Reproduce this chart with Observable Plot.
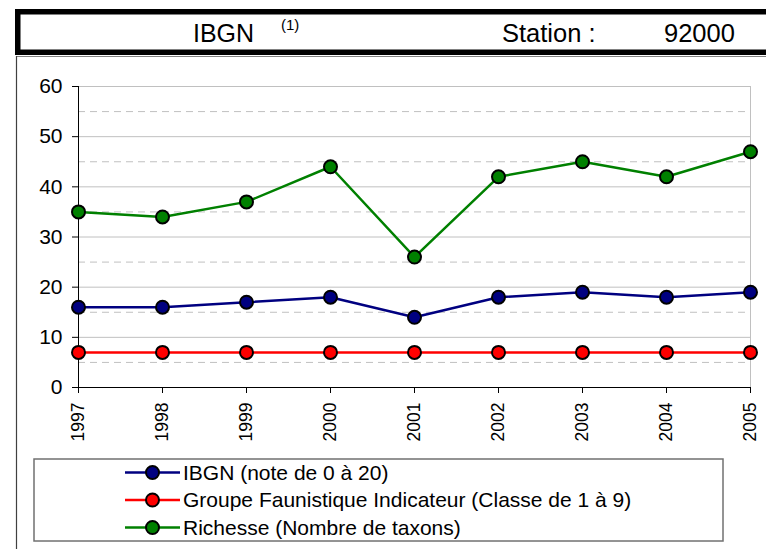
<!DOCTYPE html>
<html><head><meta charset="utf-8">
<script src="https://cdn.jsdelivr.net/npm/d3@7"></script>
<script src="https://cdn.jsdelivr.net/npm/@observablehq/plot@0.6"></script>
<style>
body{margin:0;background:#fff;}
#wrap{position:relative;width:766px;height:549px;overflow:hidden;background:#fff;font-family:"Liberation Sans",Arial,sans-serif;}
#chart{position:absolute;left:0;top:0;}
#deco{position:absolute;left:0;top:0;pointer-events:none;}
</style></head><body>
<div id="wrap"><div id="chart"></div><svg id="deco" width="766" height="549"></svg></div>
<script>
const years = ["1997","1998","1999","2000","2001","2002","2003","2004","2005"];
const ibgn = [16,16,17,18,14,18,19,18,19];
const gfi = [7,7,7,7,7,7,7,7,7];
const richesse = [35,34,37,44,26,42,45,42,47];
const seriesNames = ["IBGN (note de 0 à 20)","Groupe Faunistique Indicateur (Classe de 1 à 9)","Richesse (Nombre de taxons)"];
const seriesColors = ["#000080","#ff0000","#008000"];
const seriesValues = [ibgn, gfi, richesse];
const yMajor = [0,10,20,30,40,50,60];
const yMinor = [5,15,25,35,45,55];
const titleLeft = "IBGN";
const titleNote = "(1)";
const stationLabel = "Station :";
const stationCode = "92000";

const series = seriesNames.map((name,i)=>({name, color: seriesColors[i], rows: years.map((y,j)=>({year:y, value: seriesValues[i][j]}))}));

const marks = [
  Plot.ruleY(yMinor, {stroke:"#c0c0c0", strokeDasharray:"7,5", strokeWidth:1}),
  Plot.ruleY(yMajor.filter(v=>v>0), {stroke:"#c0c0c0", strokeWidth:1}),
  Plot.ruleX([years[years.length-1]], {y1:0, y2:60, stroke:"#c0c0c0", strokeWidth:1}),
  Plot.ruleX([years[0]], {y1:0, y2:60, stroke:"#000", strokeWidth:1}),
  Plot.ruleY([0], {stroke:"#000", strokeWidth:1}),
  Plot.axisY({ticks: yMajor, tickSize:6, tickPadding:10, fontSize:21, tickFormat: d=>String(d)}),
  Plot.axisX({tickSize:6, tickPadding:9, tickRotate:-90, fontSize:17.5}),
];
for (const s of [series[2], series[0], series[1]]) {
  marks.push(Plot.line(s.rows, {x:"year", y:"value", stroke:s.color, strokeWidth:2.5}));
}
for (const s of [series[2], series[0], series[1]]) {
  marks.push(Plot.dot(s.rows, {x:"year", y:"value", r:6.5, fill:s.color, stroke:"#000", strokeWidth:2}));
}

const chart = Plot.plot({
  width:766, height:458,
  marginLeft:78, marginRight:16, marginTop:86, marginBottom:71,
  x:{type:"point", domain:years, padding:0, label:null, axis:null},
  y:{domain:[0,60], label:null, axis:null},
  style:{fontFamily:'"Liberation Sans", Arial, sans-serif', color:"#000", background:"transparent", overflow:"visible"},
  marks
});
document.getElementById("chart").appendChild(chart);

const deco = d3.select("#deco");
// header
deco.append("rect").attr("x",17.75).attr("y",11.75).attr("width",800).attr("height",40.5)
  .attr("fill","none").attr("stroke","#000").attr("stroke-width",5.5);
deco.append("line").attr("x1",16).attr("x2",766).attr("y1",56.5).attr("y2",56.5).attr("stroke","#808080").attr("stroke-width",1);
deco.append("line").attr("x1",16.5).attr("x2",16.5).attr("y1",56).attr("y2",549).attr("stroke","#404040").attr("stroke-width",1.2);
const ht = (x,y,t,fs)=>deco.append("text").attr("x",x).attr("y",y).attr("font-size",fs)
  .attr("font-family",'"Liberation Sans", Arial, sans-serif').attr("fill","#000").text(t);
ht(193,41.5,titleLeft,25);
ht(281,30,titleNote,15);
ht(502,41.5,stationLabel,25.5);
ht(664,41.5,stationCode,25.5);
// legend
deco.append("rect").attr("x",34).attr("y",459).attr("width",689).attr("height",82)
  .attr("fill","none").attr("stroke","#707070").attr("stroke-width",1.5);
series.forEach((s,i)=>{
  const cy = 472.5 + i*27.5;
  deco.append("line").attr("x1",125).attr("x2",180).attr("y1",cy).attr("y2",cy).attr("stroke",s.color).attr("stroke-width",2.5);
  deco.append("circle").attr("cx",152.5).attr("cy",cy).attr("r",6.5).attr("fill",s.color).attr("stroke","#000").attr("stroke-width",2);
  ht(183, cy+7, s.name, 21);
});
</script>
</body></html>
